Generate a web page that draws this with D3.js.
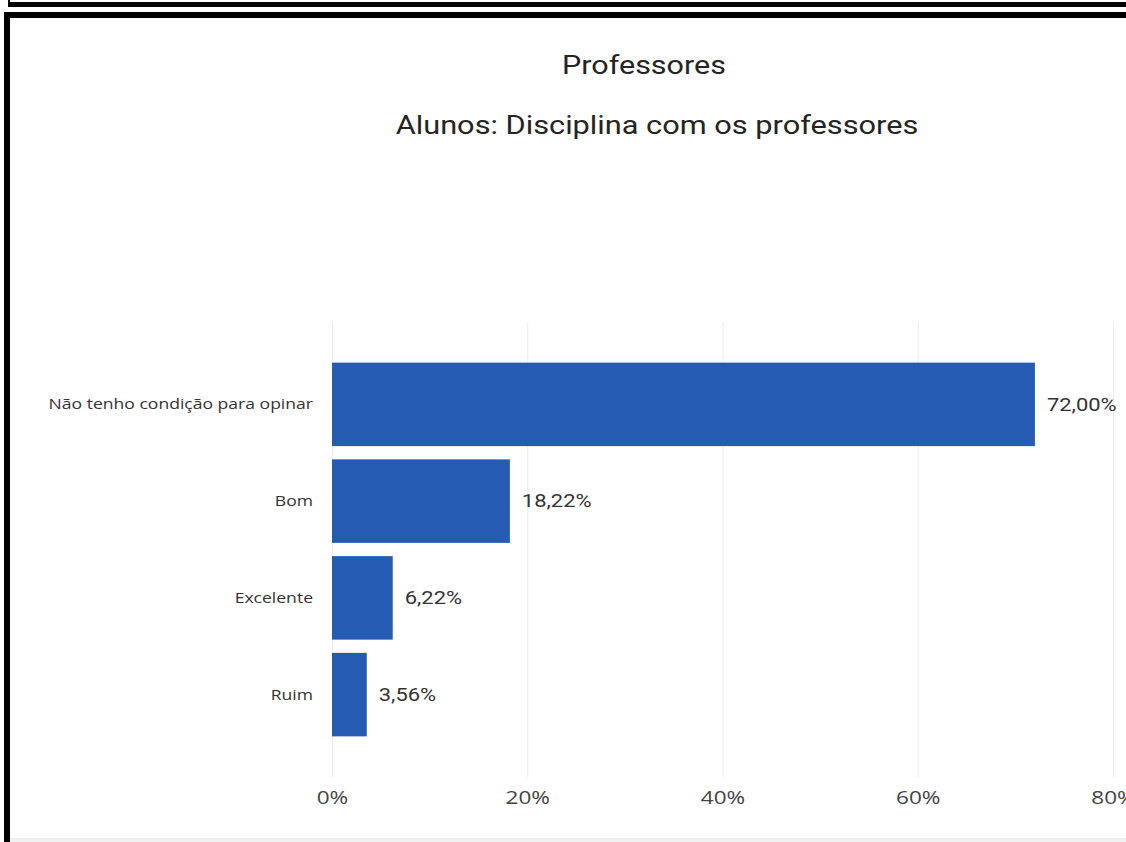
<!DOCTYPE html>
<html>
<head>
<meta charset="utf-8">
<script src="https://cdn.jsdelivr.net/npm/d3@7"></script>
<style>
  body { margin: 0; background: #fff; }
  svg { display: block; }
</style>
</head>
<body>
<div id="chart"></div>
<script>
// data
var categories = ["Não tenho condição para opinar", "Bom", "Excelente", "Ruim"];
var values = [72.00, 18.22, 6.22, 3.56];
var tickValues = [0, 20, 40, 60, 80];
var title = "Professores";
var subtitle = "Alunos: Disciplina com os professores";

var width = 1126, height = 842;
var SX = 1.22; // screenshot is stretched sideways, text too

var svg = d3.select("#chart")
  .append("svg")
  .attr("width", width)
  .attr("height", height);

// frame lines of the screenshot
svg.append("rect").attr("x", 8).attr("y", 2).attr("width", width).attr("height", 5).attr("fill", "#000");
svg.append("rect").attr("x", 8).attr("y", 0).attr("width", 2).attr("height", 3).attr("fill", "#000");
svg.append("rect").attr("x", 4).attr("y", 12).attr("width", width).attr("height", 6).attr("fill", "#000");
svg.append("rect").attr("x", 4).attr("y", 12).attr("width", 6).attr("height", height).attr("fill", "#000");
svg.append("rect").attr("x", 10).attr("y", 838).attr("width", width).attr("height", 4).attr("fill", "#f0f0f0");

var x = d3.scaleLinear()
  .domain([0, 80])
  .range([332, 1113]);

var y = d3.scaleBand()
  .domain(categories)
  .range([322, 777])
  .paddingInner(0.137)
  .paddingOuter(0.42);

// titles
svg.append("text")
  .attr("transform", `translate(644,74) scale(${SX},1)`)
  .attr("text-anchor", "middle")
  .attr("font-family", "Roboto, sans-serif")
  .attr("font-size", 25)
  .attr("fill", "#252423")
  .text(title);

svg.append("text")
  .attr("transform", `translate(657,134) scale(${SX},1)`)
  .attr("text-anchor", "middle")
  .attr("font-family", "Roboto, sans-serif")
  .attr("font-size", 25.2)
  .attr("fill", "#252423")
  .text(subtitle);

// gridlines + tick labels
var axis = d3.axisBottom(x)
  .tickValues(tickValues)
  .tickSize(-(777 - 322))
  .tickPadding(14)
  .tickFormat(d => d + "%");

var gx = svg.append("g")
  .attr("transform", "translate(0,777)")
  .call(axis);

gx.select(".domain").remove();
gx.selectAll(".tick line").attr("stroke", "#ececec").attr("stroke-width", 1);
gx.selectAll(".tick text")
  .attr("transform", `scale(${SX},1)`)
  .attr("font-family", "'Open Sans', sans-serif")
  .attr("font-size", 18.5)
  .attr("fill", "#444");

var rows = categories.map((c, i) => ({ cat: c, val: values[i] }));

svg.selectAll(".bar")
  .data(rows)
  .join("rect")
  .attr("class", "bar")
  .attr("x", x(0))
  .attr("y", d => y(d.cat))
  .attr("width", d => x(d.val) - x(0))
  .attr("height", y.bandwidth())
  .attr("fill", "#255bb0");

// category labels
svg.selectAll(".cat")
  .data(rows)
  .join("text")
  .attr("class", "cat")
  .attr("transform", d => `translate(${x(0) - 19},${y(d.cat) + y.bandwidth() / 2}) scale(${SX},1)`)
  .attr("dy", "0.35em")
  .attr("text-anchor", "end")
  .attr("font-family", "'Open Sans', sans-serif")
  .attr("font-size", 14.4)
  .attr("fill", "#333")
  .text(d => d.cat);

// value labels
var fmt = d3.format(".2f");
svg.selectAll(".val")
  .data(rows)
  .join("text")
  .attr("class", "val")
  .attr("transform", d => `translate(${x(d.val) + 12},${y(d.cat) + y.bandwidth() / 2}) scale(${SX},1)`)
  .attr("dy", "0.35em")
  .attr("font-family", "Roboto, sans-serif")
  .attr("font-size", 18)
  .attr("fill", "#333")
  .text(d => fmt(d.val).replace(".", ",") + "%");
</script>
</body>
</html>
